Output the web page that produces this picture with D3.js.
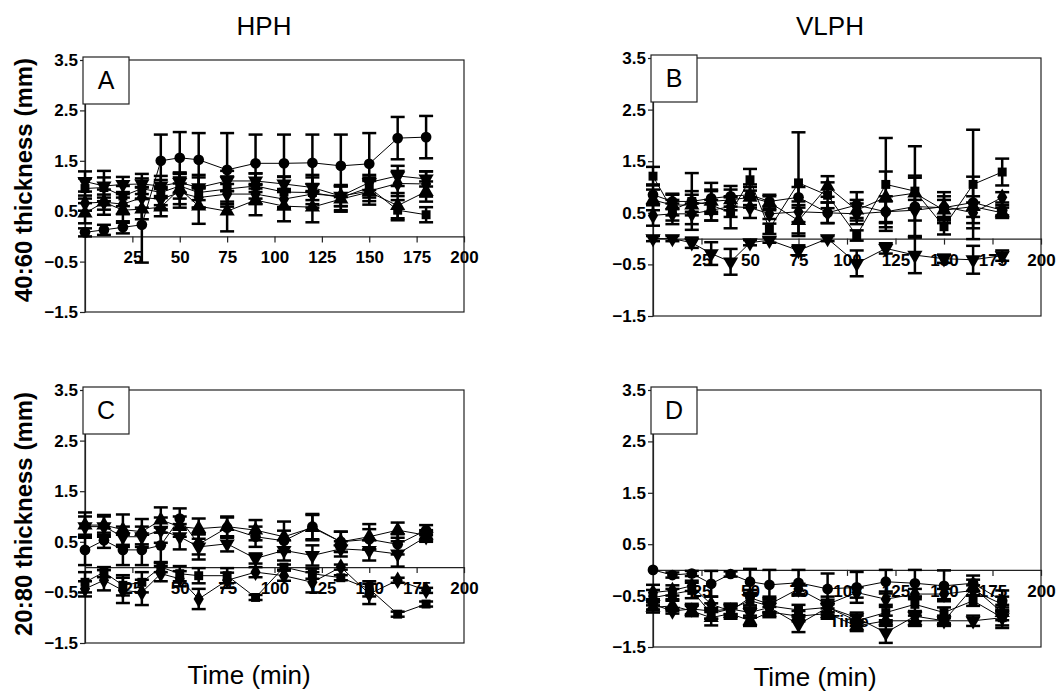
<!DOCTYPE html>
<html>
<head>
<meta charset="utf-8">
<script src="https://cdn.jsdelivr.net/npm/d3@7"></script>
<style>
  body { margin: 0; background: #fff; }
  text { font-family: Arial, "Liberation Sans", sans-serif; }
</style>
</head>
<body>
<div id="chart"></div>
<script>
// time points (min)
const times = [0, 10, 20, 30, 40, 50, 60, 75, 90, 105, 120, 135, 150, 165, 180];
const xTicks = [25, 50, 75, 100, 125, 150, 175, 200];
const yTicks = [3.5, 2.5, 1.5, 0.5, -0.5, -1.5];

// Panel A (HPH, 40:60)
const aCircle    = [0.08, 0.13, 0.18, 0.23, 1.50, 1.56, 1.52, 1.32, 1.45, 1.45, 1.46, 1.40, 1.44, 1.95, 1.97];
const aCircleSd  = [0.08, 0.10, 0.12, 0.75, 0.52, 0.51, 0.53, 0.73, 0.57, 0.57, 0.56, 0.62, 0.61, 0.42, 0.42];
const aSquare    = [0.95, 0.97, 0.80, 0.95, 0.87, 1.00, 0.87, 0.94, 1.00, 0.88, 0.87, 0.77, 0.97, 0.52, 0.43];
const aSquareSd  = [0.20, 0.20, 0.20, 0.20, 0.25, 0.25, 0.30, 0.25, 0.25, 0.30, 0.30, 0.25, 0.20, 0.20, 0.15];
const aTriUp     = [0.46, 0.68, 0.52, 0.54, 0.58, 0.94, 0.60, 0.50, 0.72, 0.60, 0.58, 0.74, 0.88, 0.61, 0.89];
const aTriUpSd   = [0.20, 0.25, 0.25, 0.20, 0.18, 0.30, 0.35, 0.40, 0.30, 0.30, 0.30, 0.25, 0.25, 0.25, 0.20];
const aTriDown   = [1.09, 1.00, 1.03, 1.04, 1.00, 1.07, 0.97, 1.10, 1.10, 1.04, 0.97, 0.80, 1.07, 1.20, 1.14];
const aTriDownSd = [0.20, 0.30, 0.15, 0.20, 0.20, 0.20, 0.25, 0.20, 0.15, 0.15, 0.25, 0.20, 0.15, 0.20, 0.15];
const aDiamond   = [0.66, 0.68, 0.64, 0.77, 0.74, 0.87, 0.77, 0.84, 0.84, 0.74, 0.84, 0.80, 0.90, 1.05, 1.04];
const aDiamondSd = [0.15, 0.15, 0.20, 0.20, 0.20, 0.30, 0.20, 0.20, 0.20, 0.20, 0.20, 0.20, 0.20, 0.25, 0.25];

// Panel B (VLPH, 40:60)
const bCircle    = [0.85, 0.72, 0.72, 0.78, 0.82, 0.85, 0.72, 0.80, 0.50, 0.65, 0.52, 0.62, 0.60, 0.70, 0.55];
const bCircleSd  = [0.20, 0.15, 0.55, 0.30, 0.20, 0.20, 0.10, 0.20, 0.20, 0.25, 0.30, 0.60, 0.30, 0.50, 0.10];
const bSquare    = [1.21, 0.55, 0.72, 0.65, 0.50, 1.14, 0.19, 1.08, 0.84, 0.06, 1.05, 0.92, 0.23, 1.05, 1.29];
const bSquareSd  = [0.18, 0.20, 0.20, 0.30, 0.30, 0.21, 0.10, 0.98, 0.25, 0.10, 0.90, 0.87, 0.15, 1.06, 0.26];
const bTriUp     = [0.75, 0.65, 0.65, 0.72, 0.75, 0.80, 0.70, 0.35, 1.01, 0.55, 0.80, 0.88, 0.55, 0.62, 0.50];
const bTriUpSd   = [0.20, 0.20, 0.20, 0.20, 0.20, 0.20, 0.15, 0.30, 0.20, 0.20, 0.50, 0.30, 0.20, 0.20, 0.10];
const bTriDown   = [0.00, 0.00, -0.08, -0.29, -0.45, -0.08, -0.03, -0.23, 0.00, -0.48, -0.19, -0.32, -0.39, -0.41, -0.33];
const bTriDownSd = [0.05, 0.05, 0.10, 0.22, 0.25, 0.05, 0.05, 0.10, 0.05, 0.25, 0.10, 0.35, 0.08, 0.27, 0.10];
const bDiamond   = [0.45, 0.48, 0.48, 0.55, 0.62, 0.60, 0.48, 0.52, 0.50, 0.48, 0.52, 0.55, 0.62, 0.50, 0.80];
const bDiamondSd = [0.20, 0.20, 0.20, 0.20, 0.20, 0.20, 0.10, 0.20, 0.20, 0.20, 0.20, 0.20, 0.20, 0.20, 0.10];

// Panel C (HPH, 20:80)
const cCircle    = [0.34, 0.53, 0.34, 0.34, 0.43, 0.96, 0.45, 0.78, 0.60, 0.52, 0.80, 0.50, 0.55, 0.45, 0.73];
const cCircleSd  = [0.30, 0.15, 0.30, 0.30, 0.35, 0.20, 0.20, 0.20, 0.20, 0.20, 0.25, 0.20, 0.20, 0.20, 0.10];
const cSquare    = [-0.30, -0.10, -0.36, -0.30, 0.00, -0.13, -0.17, -0.17, -0.60, 0.00, -0.13, -0.21, -0.43, -0.93, -0.73];
const cSquareSd  = [0.20, 0.10, 0.20, 0.20, 0.10, 0.15, 0.15, 0.15, 0.05, 0.05, 0.10, 0.05, 0.15, 0.05, 0.05];
const cTriUp     = [0.83, 0.83, 0.74, 0.70, 0.93, 0.80, 0.76, 0.80, 0.73, 0.60, 0.78, 0.50, 0.60, 0.73, 0.63];
const cTriUpSd   = [0.25, 0.20, 0.30, 0.25, 0.25, 0.20, 0.20, 0.20, 0.20, 0.30, 0.25, 0.20, 0.25, 0.15, 0.10];
const cTriDown   = [0.80, 0.80, 0.60, 0.60, 0.73, 0.60, 0.40, 0.46, 0.17, 0.33, 0.23, 0.36, 0.33, 0.26, 0.60];
const cTriDownSd = [0.20, 0.20, 0.20, 0.20, 0.25, 0.25, 0.25, 0.15, 0.10, 0.20, 0.20, 0.15, 0.20, 0.25, 0.10];
const cDiamond   = [-0.43, -0.26, -0.46, -0.50, -0.13, -0.23, -0.63, -0.26, -0.10, -0.17, -0.30, 0.00, -0.53, -0.26, -0.46];
const cDiamondSd = [0.15, 0.20, 0.25, 0.25, 0.15, 0.15, 0.20, 0.15, 0.10, 0.10, 0.20, 0.05, 0.20, 0.05, 0.05];

// Panel D (VLPH, 20:80)
const dCircle    = [0.00, -0.10, -0.07, -0.27, -0.08, -0.23, -0.29, -0.25, -0.37, -0.34, -0.23, -0.26, -0.31, -0.26, -0.60];
const dCircleSd  = [0.00, 0.05, 0.05, 0.25, 0.05, 0.25, 0.29, 0.25, 0.30, 0.30, 0.23, 0.26, 0.30, 0.15, 0.20];
const dSquare    = [-0.54, -0.47, -0.40, -0.85, -0.76, -0.60, -0.70, -0.78, -0.73, -0.99, -0.83, -0.67, -0.83, -0.60, -0.93];
const dSquareSd  = [0.15, 0.10, 0.15, 0.10, 0.10, 0.15, 0.15, 0.10, 0.15, 0.10, 0.15, 0.15, 0.10, 0.10, 0.20];
const dTriUp     = [-0.73, -0.70, -0.80, -0.93, -0.85, -0.99, -0.82, -0.90, -0.85, -1.09, -0.99, -0.99, -0.99, -0.34, -0.83];
const dTriUpSd   = [0.10, 0.10, 0.10, 0.15, 0.10, 0.10, 0.10, 0.10, 0.10, 0.10, 0.10, 0.10, 0.10, 0.15, 0.15];
const dTriDown   = [-0.67, -0.80, -0.76, -0.80, -0.76, -0.83, -0.73, -1.06, -0.73, -0.93, -1.22, -0.90, -0.99, -0.99, -0.93];
const dTriDownSd = [0.10, 0.05, 0.10, 0.15, 0.10, 0.10, 0.10, 0.15, 0.10, 0.10, 0.20, 0.10, 0.05, 0.10, 0.15];
const dDiamond   = [-0.44, -0.40, -0.31, -0.67, -0.80, -0.54, -0.67, -0.37, -0.67, -0.44, -0.57, -0.47, -0.47, -0.40, -0.67];
const dDiamondSd = [0.15, 0.10, 0.10, 0.15, 0.10, 0.15, 0.15, 0.10, 0.15, 0.10, 0.15, 0.10, 0.10, 0.10, 0.15];

const markers = {
  circle:  d3.symbol().type(d3.symbolCircle).size(90)(),
  square:  d3.symbol().type(d3.symbolSquare).size(80)(),
  triUp:   d3.symbol().type(d3.symbolTriangle).size(100)(),
  triDown: d3.symbol().type(d3.symbolTriangle).size(100)(),
  diamond: d3.symbol().type(d3.symbolDiamond).size(90)()
};

const panels = [
  {letter: "A", left: 85,  right: 464,  top: 60,  bottom: 312, series: [
    ["circle", aCircle, aCircleSd], ["square", aSquare, aSquareSd], ["triUp", aTriUp, aTriUpSd],
    ["triDown", aTriDown, aTriDownSd], ["diamond", aDiamond, aDiamondSd]]},
  {letter: "B", left: 653, right: 1041, top: 58,  bottom: 316, series: [
    ["circle", bCircle, bCircleSd], ["square", bSquare, bSquareSd], ["triUp", bTriUp, bTriUpSd],
    ["triDown", bTriDown, bTriDownSd], ["diamond", bDiamond, bDiamondSd]]},
  {letter: "C", left: 85,  right: 464,  top: 390, bottom: 643, series: [
    ["circle", cCircle, cCircleSd], ["square", cSquare, cSquareSd], ["triUp", cTriUp, cTriUpSd],
    ["triDown", cTriDown, cTriDownSd], ["diamond", cDiamond, cDiamondSd]]},
  {letter: "D", left: 653, right: 1041, top: 390, bottom: 647, series: [
    ["circle", dCircle, dCircleSd], ["square", dSquare, dSquareSd], ["triUp", dTriUp, dTriUpSd],
    ["triDown", dTriDown, dTriDownSd], ["diamond", dDiamond, dDiamondSd]], strayLabel: true}
];

const svg = d3.select("#chart").append("svg")
  .attr("width", 1057)
  .attr("height", 692);

// column titles, row labels, x titles
svg.append("text").attr("x", 264).attr("y", 35).attr("text-anchor", "middle")
  .style("font-size", "26px").text("HPH");
svg.append("text").attr("x", 830).attr("y", 35).attr("text-anchor", "middle")
  .style("font-size", "26px").text("VLPH");
svg.append("text").attr("transform", "translate(32,180) rotate(-90)").attr("text-anchor", "middle")
  .style("font-size", "24px").style("font-weight", "bold").text("40:60 thickness (mm)");
svg.append("text").attr("transform", "translate(32,514) rotate(-90)").attr("text-anchor", "middle")
  .style("font-size", "24px").style("font-weight", "bold").text("20:80 thickness (mm)");
svg.append("text").attr("x", 249).attr("y", 684).attr("text-anchor", "middle")
  .style("font-size", "26px").text("Time (min)");
svg.append("text").attr("x", 815).attr("y", 686).attr("text-anchor", "middle")
  .style("font-size", "26px").text("Time (min)");

panels.forEach(p => {
  const x = d3.scaleLinear().domain([0, 200]).range([p.left, p.right]);
  const y = d3.scaleLinear().domain([-1.5, 3.5]).range([p.bottom, p.top]);
  const g = svg.append("g");

  // frame
  g.append("rect")
    .attr("x", p.left).attr("y", p.top)
    .attr("width", p.right - p.left).attr("height", p.bottom - p.top)
    .attr("fill", "none").attr("stroke", "#222").attr("stroke-width", 1.2);

  // y axis
  const ya = g.append("g")
    .attr("transform", `translate(${p.left},0)`)
    .call(d3.axisLeft(y).tickValues(yTicks).tickSize(5).tickSizeOuter(0).tickPadding(2)
      .tickFormat(d3.format(".1f")));
  ya.selectAll("text").style("font-size", "17px").style("font-weight", "bold")
    .style("font-family", "Arial, 'Liberation Sans', sans-serif").attr("fill", "#000");
  ya.selectAll("line, path").attr("stroke", "#222").attr("stroke-width", 1.2);

  // x axis sitting on y = 0
  const xa = g.append("g")
    .attr("transform", `translate(0,${y(0)})`)
    .call(d3.axisBottom(x).tickValues(xTicks).tickSize(6).tickSizeOuter(0).tickPadding(9));
  xa.selectAll("text").style("font-size", "17px").style("font-weight", "bold")
    .style("font-family", "Arial, 'Liberation Sans', sans-serif").attr("fill", "#000");
  xa.selectAll("line, path").attr("stroke", "#222").attr("stroke-width", 1.2);

  if (p.strayLabel) {
    g.append("text").attr("x", x(101)).attr("y", y(-0.99) + 6).attr("text-anchor", "middle")
      .style("font-size", "17px").style("font-weight", "bold").text("Time");
  }

  // letter box
  g.append("rect")
    .attr("x", p.left - 2).attr("y", p.top - 3).attr("width", 46).attr("height", 47)
    .attr("fill", "#fff").attr("stroke", "#222").attr("stroke-width", 1.2);
  g.append("text")
    .attr("x", p.left + 21).attr("y", p.top + 29).attr("text-anchor", "middle")
    .style("font-size", "25px").text(p.letter);

  const line = d3.line().x((d, i) => x(times[i])).y(d => y(d));

  // connecting lines
  p.series.forEach(([, vals]) => {
    g.append("path").datum(vals)
      .attr("d", line).attr("fill", "none").attr("stroke", "#000").attr("stroke-width", 1);
  });

  // error bars
  p.series.forEach(([, vals, sd]) => {
    const eb = g.append("g").attr("stroke", "#000").attr("stroke-width", 2.5);
    vals.forEach((v, i) => {
      if (!sd[i]) return;
      const cx = x(times[i]);
      eb.append("line").attr("x1", cx).attr("x2", cx).attr("y1", y(v - sd[i])).attr("y2", y(v + sd[i]));
      eb.append("line").attr("x1", cx - 7).attr("x2", cx + 7).attr("y1", y(v + sd[i])).attr("y2", y(v + sd[i]));
      eb.append("line").attr("x1", cx - 7).attr("x2", cx + 7).attr("y1", y(v - sd[i])).attr("y2", y(v - sd[i]));
    });
  });

  // markers
  p.series.forEach(([shape, vals]) => {
    g.append("g").selectAll("path").data(vals).enter().append("path")
      .attr("d", markers[shape])
      .attr("transform", (d, i) => `translate(${x(times[i])},${y(d)})` + (shape === "triDown" ? " rotate(180)" : ""))
      .attr("fill", "#000");
  });
});
</script>
</body>
</html>
